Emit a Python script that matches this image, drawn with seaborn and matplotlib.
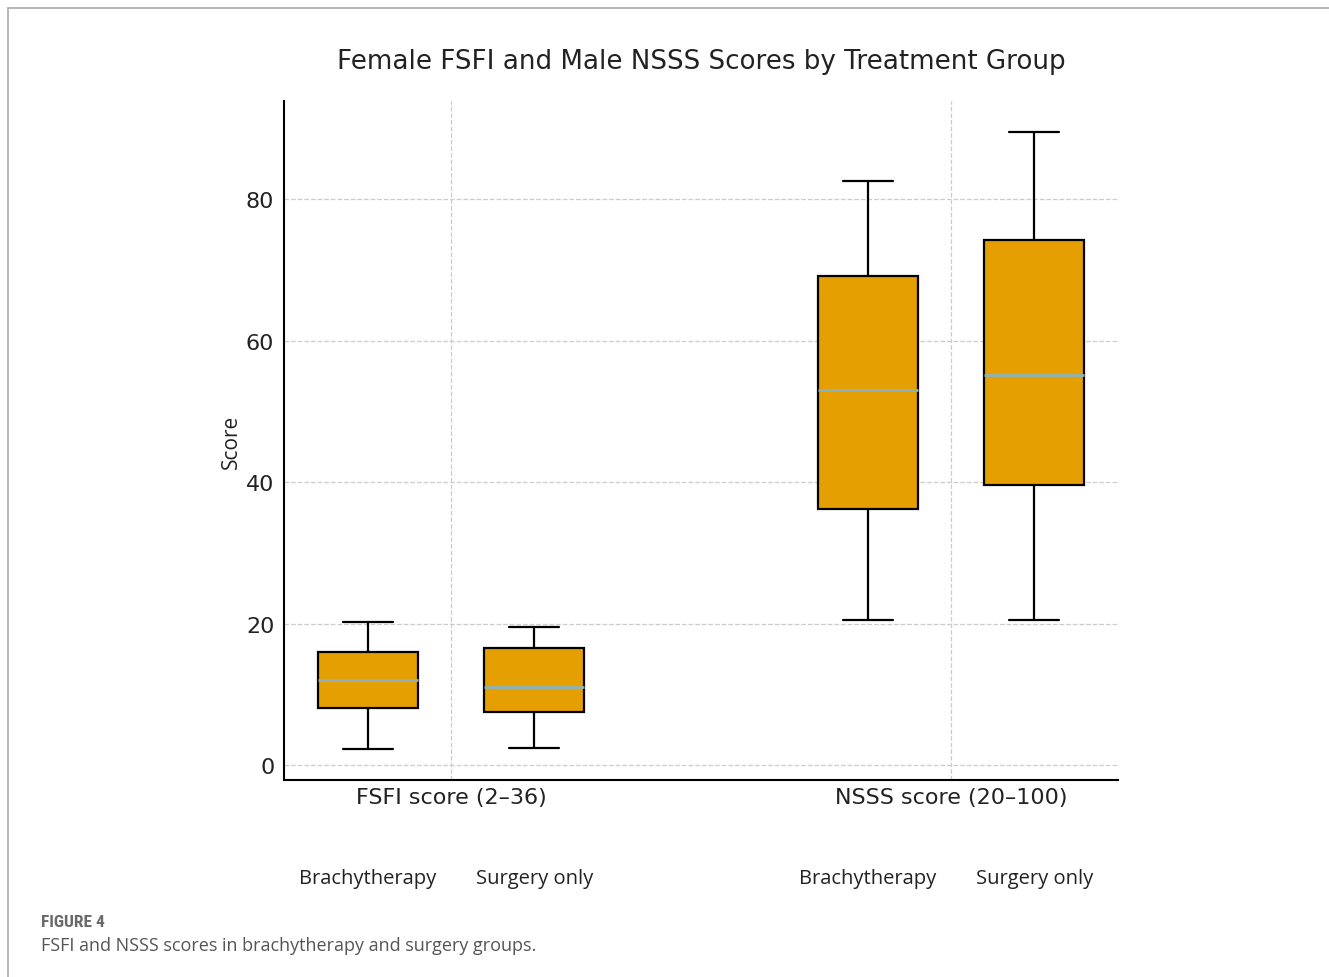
import numpy as np
import pandas as pd
import seaborn as sns
import matplotlib
matplotlib.use("Agg")
import matplotlib.pyplot as plt
from matplotlib.lines import Line2D
import matplotlib.transforms as mtransforms

# Five-number summaries (min, Q1, median, Q3, max) per measure and treatment group
measures = ["FSFI score (2–36)", "NSSS score (20–100)"]
groups = ["Brachytherapy", "Surgery only"]
fsfi_brachy = [2.3, 8.1, 12.0, 16.0, 20.2]
fsfi_surgery = [2.4, 7.5, 11.0, 16.6, 19.5]
nsss_brachy = [20.5, 36.2, 53.1, 69.1, 82.6]
nsss_surgery = [20.5, 39.6, 55.2, 74.2, 89.5]
y_ticks = [0, 20, 40, 60, 80]

records = []
for measure, series in zip(measures, [[fsfi_brachy, fsfi_surgery], [nsss_brachy, nsss_surgery]]):
    for group, values in zip(groups, series):
        for v in values:
            records.append({"measure": measure, "group": group, "score": v})
df = pd.DataFrame(records)

sns.set_style("white")
plt.rcParams["font.family"] = ["DejaVu Sans"]

fig = plt.figure(figsize=(13.29, 9.78), dpi=100)
ax = fig.add_axes([0.2137, 0.2014, 0.8412 - 0.2137, 0.8957 - 0.2014])

sns.boxplot(
    data=df, x="measure", y="score", hue="group",
    order=measures, hue_order=groups,
    palette={g: "#E69F00" for g in groups}, saturation=1,
    width=0.667, gap=0.4, whis=np.inf,
    linecolor="black", linewidth=1.6, legend=False, ax=ax,
    medianprops={"color": "#8ab4bb", "linewidth": 2.0},
)

ax.set_xlim(-0.334, 1.334)
ax.set_ylim(-2.1, 93.9)
ax.set_yticks(y_ticks)
ax.grid(True, linestyle="--", color="#cccccc", linewidth=0.9)
ax.set_axisbelow(True)
for side in ["top", "right"]:
    ax.spines[side].set_visible(False)
for side in ["left", "bottom"]:
    ax.spines[side].set_color("black")
    ax.spines[side].set_linewidth(1.5)
ax.tick_params(axis="both", direction="in", length=5, width=1.0, colors="#222222",
               labelsize=16, pad=7)
ax.tick_params(axis="x", pad=5)
ax.set_xlabel("")
ax.set_ylabel("Score", fontsize=15, family=["Open Sans", "DejaVu Sans"], color="#222222", labelpad=3)
ax.set_title("Female FSFI and Male NSSS Scores by Treatment Group", fontsize=18.8,
             color="#222222", pad=24)

# Treatment group names under each box
trans = mtransforms.blended_transform_factory(ax.transData, fig.transFigure)
offset = 0.667 / 4
for i, _ in enumerate(measures):
    for j, g in enumerate(groups):
        xpos = i + (-offset if j == 0 else offset)
        fig.text(xpos, 1 - 879 / 978, g, transform=trans, ha="center", va="center",
                 fontsize=14.5, family=["Open Sans", "DejaVu Sans"], color="#222222")

# Caption block and frame
fig.text(41 / 1329, 1 - 923 / 978, "FIGURE 4", fontsize=12.5, color="#6a6a6a", fontweight="bold",
         family=["Roboto Condensed", "Open Sans", "DejaVu Sans"], va="center", ha="left")
fig.text(41 / 1329, 1 - 946 / 978, "FSFI and NSSS scores in brachytherapy and surgery groups.",
         fontsize=13, color="#555555", family=["Open Sans", "DejaVu Sans"], va="center", ha="left")
fig.add_artist(Line2D([8 / 1329, 1.0], [1 - 9 / 978, 1 - 9 / 978], transform=fig.transFigure,
                      color="#aaaaaa", linewidth=1.2))
fig.add_artist(Line2D([8 / 1329, 8 / 1329], [1 - 9 / 978, 0.0], transform=fig.transFigure,
                      color="#aaaaaa", linewidth=1.2))

fig.savefig("out.png", dpi=100)
